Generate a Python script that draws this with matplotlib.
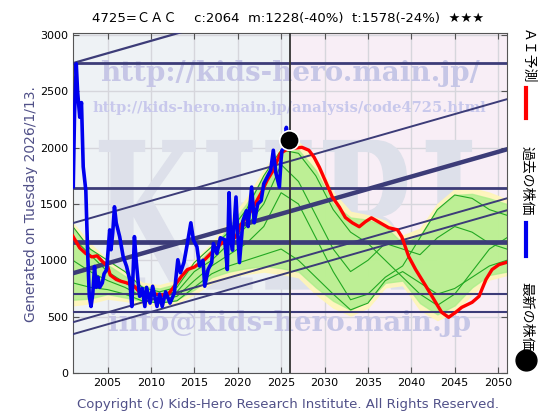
import matplotlib
matplotlib.use("Agg")
import matplotlib.pyplot as plt
import numpy as np
from matplotlib.textpath import TextPath
from matplotlib.patches import PathPatch
from matplotlib.font_manager import FontProperties
from matplotlib.transforms import Affine2D

plt.rcParams['font.family'] = ['DejaVu Sans', 'Noto Sans CJK JP']

# ---- data ----
blue_years = [2001.0, 2001.05, 2001.2, 2001.4, 2001.55, 2001.8, 2002.0, 2002.2, 2002.5, 2002.7,
              2002.9, 2003.1, 2003.3, 2003.5, 2003.7, 2003.9, 2004.1, 2004.4, 2004.6, 2004.9,
              2005.25, 2005.4, 2005.6, 2005.8, 2006.0, 2006.4, 2006.8, 2007.2, 2007.55, 2007.8,
              2008.1, 2008.3, 2008.5, 2008.7, 2009.0, 2009.3, 2009.5, 2009.9, 2010.2, 2010.7,
              2011.0, 2011.3, 2011.7, 2012.2, 2012.7, 2013.1, 2013.4, 2013.8, 2014.2, 2014.6,
              2014.9, 2015.3, 2015.6, 2016.0, 2016.2, 2016.6, 2017.0, 2017.2, 2017.6, 2018.0,
              2018.5, 2018.8, 2019.0, 2019.2, 2019.4, 2019.8, 2020.0, 2020.2, 2020.6, 2021.0,
              2021.2, 2021.6, 2021.8, 2021.9, 2022.3, 2022.7, 2023.0, 2023.4, 2023.8, 2024.1,
              2024.4, 2024.8, 2025.0, 2025.1, 2025.4, 2025.6, 2025.8]
blue_vals = [2040, 1650, 2300, 2745, 2500, 2270, 2400, 1830, 1620, 1094,
             680, 590, 700, 945, 760, 850, 760, 800, 880, 918,
             1270, 1094, 1244, 1475, 1333, 1210, 1033, 945, 830, 590,
             1210, 1000, 830, 680, 750, 590, 760, 620, 770, 590,
             700, 590, 720, 620, 710, 1005, 890, 980, 1150, 1333,
             1180, 1120, 950, 1000, 770, 920, 980, 1150, 1060, 1200,
             1183, 918, 1600, 1180, 1090, 1562, 1250, 980, 1350, 1440,
             1300, 1650, 1450, 1333, 1500, 1530, 1680, 1740, 1800, 1977,
             1774, 1650, 1900, 1977, 2000, 2180, 2064]

red_years = [2001.0, 2001.8, 2002.5, 2003.2, 2003.8, 2004.4, 2005.0, 2005.3, 2006.0, 2006.5,
             2007.2, 2008.1, 2008.7, 2009.3, 2010.0, 2010.5, 2011.5, 2012.0, 2012.7, 2013.5,
             2014.2, 2015.0, 2016.2, 2017.0, 2018.2, 2019.0, 2019.8, 2020.5, 2021.6, 2022.7,
             2023.4, 2024.1, 2024.9, 2025.5, 2026.0, 2026.5, 2027.4, 2028.2, 2028.8, 2029.4,
             2030.2, 2030.9, 2031.7, 2032.4, 2033.2, 2034.0, 2034.7, 2035.4, 2036.4, 2037.4,
             2038.4, 2038.9, 2039.7, 2040.5, 2041.7, 2042.8, 2043.5, 2044.3, 2045.1, 2045.8,
             2047.0, 2047.8, 2048.6, 2049.3, 2050.1, 2050.9]
red_vals = [1215, 1110, 1060, 1030, 1040, 990, 950, 870, 830, 815,
            800, 770, 715, 680, 690, 700, 690, 700, 770, 856,
            918, 940, 1006, 1068, 1156, 1170, 1209, 1333, 1447, 1597,
            1712, 1800, 1950, 1977, 1990, 1995, 2003, 1977, 1915, 1827,
            1686, 1562, 1474, 1380, 1333, 1298, 1342, 1377, 1333, 1289,
            1271, 1209, 1033, 918, 768, 627, 538, 494, 538, 582,
            627, 680, 830, 918, 962, 980]

band_years = [2001, 2003, 2005, 2007, 2009, 2011, 2013, 2015, 2017, 2019, 2021, 2023, 2025,
              2027, 2029, 2031, 2033, 2035, 2037, 2039, 2041, 2043, 2045, 2047, 2049, 2051]
yellow_hi = [1330, 1150, 1000, 900, 800, 780, 820, 1000, 1150, 1350, 1550, 1800, 2000,
             2050, 1900, 1600, 1430, 1400, 1350, 1220, 1280, 1500, 1630, 1640, 1600, 1540]
yellow_lo = [600, 620, 660, 640, 610, 600, 620, 700, 800, 850, 880, 900, 880,
             850, 700, 580, 510, 580, 760, 780, 560, 470, 540, 700, 830, 870]
green_hi = [1280, 1100, 960, 860, 770, 750, 790, 960, 1100, 1300, 1500, 1740, 1960,
            1980, 1800, 1500, 1380, 1360, 1300, 1150, 1220, 1450, 1580, 1590, 1550, 1500]
green_lo = [650, 660, 700, 670, 640, 630, 650, 740, 850, 900, 930, 950, 930,
            900, 760, 640, 560, 640, 800, 820, 620, 520, 600, 760, 870, 900]

scen1 = [1300, 1100, 1000, 900, 760, 720, 760, 980, 1120, 1250, 1450, 1750, 1980,
         1950, 1750, 1450, 1250, 1150, 1000, 850, 700, 600, 700, 900, 1100, 1200]
scen2 = [1200, 1050, 900, 800, 720, 700, 720, 900, 1000, 1150, 1300, 1500, 1850,
         1700, 1400, 1100, 900, 1000, 1150, 1100, 1050, 1200, 1300, 1250, 1150, 1100]
scen3 = [1000, 900, 820, 760, 680, 650, 680, 820, 950, 1050, 1150, 1300, 1600,
         1500, 1200, 900, 650, 700, 850, 950, 1200, 1450, 1580, 1550, 1450, 1400]
scen4 = [800, 760, 740, 700, 640, 620, 640, 760, 880, 950, 1000, 1050, 1100,
         1000, 850, 700, 560, 620, 820, 900, 800, 700, 750, 850, 950, 1000]

trend_x = [2001, 2051]
trend_start = [2750, 1330, 885, 450, 344]
trend_end = [3850, 2430, 1985, 1550, 1444]
trend_width = [1.6, 1.4, 3.2, 1.4, 1.4]

levels = [2753, 1641, 1165, 697, 538]
level_width = [2.0, 2.0, 3.4, 1.5, 1.5]

now_year = 2026.0
latest_year, latest_price = 2025.9, 2064

xticks = [2005, 2010, 2015, 2020, 2025, 2030, 2035, 2040, 2045, 2050]
yticks = [0, 500, 1000, 1500, 2000, 2500, 3000]

title = "4725=ＣＡＣ　 c:2064  m:1228(-40%)  t:1578(-24%)  ★★★"

# ---- figure ----
fig = plt.figure(figsize=(5.6, 4.2), dpi=100)
ax = fig.add_axes([0.130, 0.112, 0.775, 0.810])
ax.set_xlim(2001, 2051)
ax.set_ylim(0, 3020)

ax.axvspan(2001, now_year, color="#eef2f5", zorder=0)
ax.axvspan(now_year, 2051, color="#f8eef6", zorder=0)
for x in xticks:
    ax.axvline(x, color="#d6d6dc", lw=1, zorder=0.5)
for y in yticks:
    ax.axhline(y, color="#d6d6dc", lw=1, zorder=0.5)

# watermarks
# big stretched KHRI logo
tp = TextPath((0, 0), "KHRI", size=1,
              prop=FontProperties(family="DejaVu Serif", weight="bold"))
bb = tp.get_extents()
logo_tr = (Affine2D().translate(-bb.x0, -bb.y0)
           .scale(0.86 / bb.width, 0.44 / bb.height)
           .translate(0.06, 0.245) + ax.transAxes)
ax.add_patch(PathPatch(tp, transform=logo_tr, facecolor="#dde0ea", edgecolor="none",
                       zorder=1))

wm = dict(family="DejaVu Serif", fontweight="bold", ha="center", va="center",
          zorder=1, clip_on=True)
ax.text(0.50, 0.88, "http://kids-hero.main.jp/", transform=ax.transAxes,
        fontsize=20, color="#c6c6e6", **wm)
ax.text(0.50, 0.78, "http://kids-hero.main.jp/analysis/code4725.html", transform=ax.transAxes,
        fontsize=10.5, color="#c8c8ec", **wm)
ax.text(0.50, 0.145, "info@kids-hero.main.jp", transform=ax.transAxes,
        fontsize=20, color="#c6c6e6", **wm)

# forecast bands
ax.fill_between(band_years, yellow_lo, yellow_hi, color="#fff6b8", alpha=0.9, zorder=2)
ax.fill_between(band_years, green_lo, green_hi, color="#a8ee88", alpha=0.75, zorder=2.1)
for s in (scen1, scen2, scen3, scen4):
    ax.plot(band_years, s, color="#22a822", lw=0.8, zorder=2.5)

# trend channels and levels
for a, b, w in zip(trend_start, trend_end, trend_width):
    ax.plot(trend_x, [a, b], color="#3c3c78", lw=w, zorder=3)
for lv, w in zip(levels, level_width):
    ax.axhline(lv, color="#3c3c78", lw=w, zorder=3)

ax.axvline(now_year, color="#333333", lw=1.3, zorder=3.5)

ax.plot(red_years, red_vals, color="#ff0000", lw=2.4, zorder=4)
ax.plot(blue_years, blue_vals, color="#0000ee", lw=2.6, zorder=5)
ax.plot(latest_year, latest_price, "o", color="black", markersize=14,
        markeredgecolor="white", markeredgewidth=1.2, zorder=6)

ax.set_xticks(xticks)
ax.set_yticks(yticks)
ax.tick_params(labelsize=8, direction="in", top=True, right=True, length=4,
               color="#555555")
for sp in ax.spines.values():
    sp.set_color("#555555")

fig.text(0.515, 0.957, title, ha="center", va="center", fontsize=9.5,
         family=["DejaVu Sans", "Noto Sans CJK JP"])
fig.text(0.055, 0.515, "Generated on Tuesday 2026/1/13.", rotation=90,
         ha="center", va="center", fontsize=10, color="#505088")
fig.text(0.515, 0.038, "Copyright (c) Kids-Hero Research Institute. All Rights Reserved.",
         ha="center", va="center", fontsize=9.5, color="#505088")

# right-side legend
leg_font = ["Noto Sans CJK JP", "DejaVu Sans"]
fig.text(0.940, 0.865, "ＡＩ予測", rotation=-90, ha="center", va="center",
         fontsize=10, family=leg_font)
fig.lines.append(plt.Line2D([0.940, 0.940], [0.72, 0.79], transform=fig.transFigure,
                            color="#ff0000", lw=3))
fig.text(0.940, 0.57, "過去の株価", rotation=-90, ha="center", va="center",
         fontsize=10, family=leg_font)
fig.lines.append(plt.Line2D([0.940, 0.940], [0.39, 0.47], transform=fig.transFigure,
                            color="#0000ee", lw=3))
fig.text(0.940, 0.245, "最新の株価", rotation=-90, ha="center", va="center",
         fontsize=10, family=leg_font)
fig.lines.append(plt.Line2D([0.940], [0.143], transform=fig.transFigure,
                            marker="o", color="black", markersize=15))

fig.savefig("out.png", dpi=100)
